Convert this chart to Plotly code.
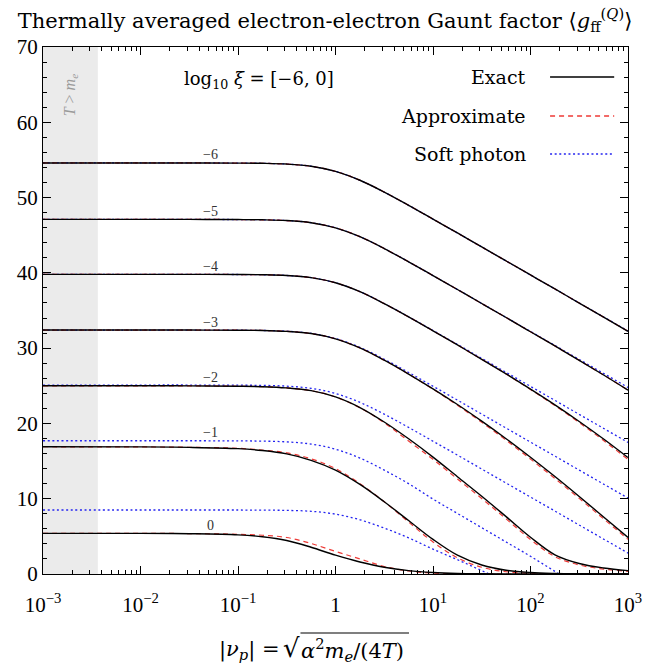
import math
import plotly.graph_objects as go

# ---------------- data ----------------
nu = [0.001, 0.01, 0.0316, 0.1, 0.178, 0.316, 0.562, 1, 1.78, 3.16, 5.62,
      10, 17.8, 31.6, 56.2, 100, 178, 316, 562, 1000]

log_xi = [-6, -5, -4, -3, -2, -1, 0]
curve_labels = ["\u22126", "\u22125", "\u22124", "\u22123", "\u22122", "\u22121", "0"]

exact_m6 = [54.6, 54.6, 54.6, 54.58, 54.55, 54.45, 54.16, 53.48, 52.30, 50.73, 48.97, 47.14, 45.30, 43.44, 41.58, 39.72, 37.86, 35.99, 34.12, 32.24]
exact_m5 = [47.1, 47.1, 47.1, 47.08, 47.05, 46.95, 46.66, 45.98, 44.80, 43.23, 41.47, 39.64, 37.79, 35.93, 34.07, 32.18, 30.29, 28.38, 26.43, 24.42]
exact_m4 = [39.8, 39.8, 39.8, 39.78, 39.75, 39.65, 39.36, 38.68, 37.50, 35.91, 34.15, 32.30, 30.42, 28.52, 26.57, 24.56, 22.47, 20.26, 17.93, 15.47]
exact_m3 = [32.4, 32.4, 32.4, 32.38, 32.35, 32.23, 31.94, 31.24, 30.03, 28.40, 26.56, 24.59, 22.51, 20.30, 17.97, 15.51, 12.94, 10.29, 7.58, 4.85]
exact_m2 = [25.0, 25.0, 24.99, 24.94, 24.88, 24.72, 24.35, 23.52, 22.11, 20.19, 17.96, 15.53, 12.92, 10.33, 7.62, 4.88, 2.55, 1.40, 0.80, 0.45]
exact_m1 = [16.9, 16.88, 16.82, 16.65, 16.40, 15.95, 15.10, 13.80, 11.90, 9.60, 7.10, 4.60, 2.50, 1.20, 0.50, 0.20, 0.08, 0.03, 0.01, 0.0]
exact_0 = [5.4, 5.4, 5.35, 5.20, 4.95, 4.45, 3.55, 2.50, 1.60, 0.90, 0.45, 0.20, 0.08, 0.03, 0.01, 0.0, 0.0, 0.0, 0.0, 0.0]

approx_m6 = [54.6, 54.6, 54.6, 54.58, 54.55, 54.45, 54.16, 53.48, 52.30, 50.73, 48.97, 47.14, 45.30, 43.44, 41.58, 39.72, 37.86, 35.99, 34.12, 32.24]
approx_m5 = [47.1, 47.1, 47.1, 47.08, 47.05, 46.95, 46.66, 45.98, 44.80, 43.23, 41.47, 39.64, 37.79, 35.93, 34.07, 32.18, 30.29, 28.38, 26.43, 24.42]
approx_m4 = [39.8, 39.8, 39.8, 39.78, 39.75, 39.65, 39.36, 38.68, 37.50, 35.91, 34.15, 32.30, 30.42, 28.52, 26.57, 24.50, 22.37, 20.11, 17.73, 15.22]
approx_m3 = [32.4, 32.4, 32.4, 32.38, 32.35, 32.23, 31.94, 31.24, 30.03, 28.40, 26.56, 24.55, 22.41, 20.15, 17.77, 15.26, 12.69, 10.04, 7.33, 4.60]
approx_m2 = [25.0, 25.0, 24.99, 24.94, 24.88, 24.72, 24.35, 23.52, 22.08, 20.09, 17.66, 15.23, 12.62, 10.03, 7.32, 4.58, 2.30, 1.20, 0.65, 0.35]
approx_m1 = [16.9, 16.88, 16.83, 16.70, 16.45, 16.10, 15.30, 14.00, 12.00, 9.60, 6.90, 4.25, 2.15, 0.90, 0.30, 0.10, 0.03, 0.01, 0.0, 0.0]
approx_0 = [5.4, 5.4, 5.37, 5.28, 5.15, 4.85, 4.05, 3.00, 2.00, 1.00, 0.40, 0.12, 0.03, 0.01, 0.0, 0.0, 0.0, 0.0, 0.0, 0.0]

soft_m6 = [54.6, 54.6, 54.6, 54.58, 54.55, 54.45, 54.16, 53.48, 52.30, 50.73, 48.97, 47.14, 45.30, 43.44, 41.58, 39.72, 37.86, 36.00, 34.14, 32.28]
soft_m5 = [47.1, 47.1, 47.1, 47.08, 47.05, 46.95, 46.66, 45.98, 44.80, 43.23, 41.47, 39.64, 37.80, 35.94, 34.08, 32.22, 30.36, 28.50, 26.64, 24.78]
soft_m4 = [39.8, 39.8, 39.8, 39.78, 39.75, 39.65, 39.36, 38.68, 37.50, 35.93, 34.17, 32.34, 30.50, 28.64, 26.78, 24.92, 23.06, 21.20, 19.34, 17.48]
soft_m3 = [32.4, 32.4, 32.4, 32.38, 32.35, 32.25, 31.96, 31.28, 30.10, 28.53, 26.77, 24.94, 23.10, 21.24, 19.38, 17.52, 15.66, 13.80, 11.94, 10.08]
soft_m2 = [25.1, 25.1, 25.1, 25.08, 25.05, 24.95, 24.66, 23.98, 22.80, 21.23, 19.47, 17.64, 15.80, 13.94, 12.08, 10.22, 8.36, 6.50, 4.64, 2.78]
soft_m1 = [17.7, 17.7, 17.7, 17.68, 17.65, 17.55, 17.26, 16.58, 15.40, 13.80, 12.00, 9.95, 8.05, 6.15, 4.25, 2.35, 0.35, -1.60, -3.50, -5.40]
soft_0 = [8.5, 8.5, 8.5, 8.5, 8.48, 8.45, 8.33, 7.95, 7.20, 6.10, 4.80, 3.30, 1.90, 0.45, -1.00, -2.40, -3.80, -5.20, -6.60, -8.00]

exact_curves = [exact_m6, exact_m5, exact_m4, exact_m3, exact_m2, exact_m1, exact_0]
approx_curves = [approx_m6, approx_m5, approx_m4, approx_m3, approx_m2, approx_m1, approx_0]
soft_curves = [soft_m6, soft_m5, soft_m4, soft_m3, soft_m2, soft_m1, soft_0]

nu_T_equals_me = 0.00365          # alpha/2 : boundary of the T > m_e region
nu_label = 0.0526                 # where the log10(xi) labels sit
y_range = [0, 70]

x_tick_vals = [1e-3, 1e-2, 1e-1, 1, 1e1, 1e2, 1e3]
x_tick_text = ["10<sup>\u22123</sup>", "10<sup>\u22122</sup>", "10<sup>\u22121</sup>", "1",
               "10<sup>1</sup>", "10<sup>2</sup>", "10<sup>3</sup>"]
x_minor_vals = [k * 10.0 ** e for e in range(-3, 3) for k in range(2, 10)]

# ---------------- style ----------------
NUMFONT = "Liberation Serif"
TXTFONT = "DejaVu Serif"
BLACK = "#000000"
RED = "#ee3a36"
BLUE = "#2424f0"
DASH = "5px,4px"
DOT = "2px,2.6px"

W, H = 654, 664
ML, MR, MT, MB = 43, 18, 47, 90
PW, PH = W - ML - MR, H - MT - MB


def px(xp):   # pixel x -> paper x
    return (xp - ML) / PW


def py(yp):   # pixel y -> paper y
    return (H - MB - yp) / PH


fig = go.Figure()

# shaded T > m_e region
fig.add_trace(go.Scatter(x=[nu[0], nu_T_equals_me, nu_T_equals_me, nu[0], nu[0]],
                         y=[y_range[0], y_range[0], y_range[1], y_range[1], y_range[0]],
                         mode="lines", fill="toself", fillcolor="#ebebeb", line=dict(width=0),
                         showlegend=False, hoverinfo="skip"))

for ys in soft_curves:
    fig.add_trace(go.Scatter(x=nu, y=ys, mode="lines",
                             line=dict(color=BLUE, width=1.3, dash=DOT, shape="spline"),
                             showlegend=False, hoverinfo="skip"))
for ys in approx_curves:
    fig.add_trace(go.Scatter(x=nu, y=ys, mode="lines",
                             line=dict(color=RED, width=1.2, dash=DASH, shape="spline"),
                             showlegend=False, hoverinfo="skip"))
for ys in exact_curves:
    fig.add_trace(go.Scatter(x=nu, y=ys, mode="lines", line=dict(color=BLACK, width=1.4, shape="spline"),
                             showlegend=False, hoverinfo="skip"))

shapes = []
annotations = []
# log10 xi labels above each exact plateau
for lab, ys, k in zip(curve_labels, exact_curves, log_xi):
    annotations.append(dict(x=math.log10(nu_label), y=ys[0], xref="x", yref="y", text=lab,
                            showarrow=False, xanchor="center", yshift=14 if k == -1 else 8,
                            font=dict(family=NUMFONT, size=14, color="#333333")))

annotations.append(dict(x=math.log10(0.0019), y=63.6, xref="x", yref="y", textangle=-90,
                        xanchor="center", yanchor="middle",
                        text="<i>T</i> > <i>m</i><sub><i>e</i></sub>", showarrow=False,
                        font=dict(family=NUMFONT, size=16, color="#9a9a9a")))

annotations.append(dict(x=px(262), y=py(80), xref="paper", yref="paper", xanchor="center",
                        yanchor="middle", text="log<sub>10</sub> <i>\u03be</i> = [\u22126, 0]",
                        showarrow=False, font=dict(family=TXTFONT, size=18, color=BLACK)))

# custom legend (text right-aligned, line key on the right)
legend_items = [("Exact", BLACK, "solid", 1.4, 77), ("Approximate", RED, DASH, 1.3, 116),
                ("Soft photon", BLUE, DOT, 1.4, 154)]
for name, col, dash, w, ypix in legend_items:
    annotations.append(dict(x=px(535), y=py(ypix), xref="paper", yref="paper", text=name,
                            showarrow=False, xanchor="right", yanchor="middle",
                            font=dict(family=TXTFONT, size=19, color=BLACK)))
    shapes.append(dict(type="line", xref="paper", yref="paper", x0=px(557), x1=px(622),
                       y0=py(ypix), y1=py(ypix), line=dict(color=col, width=w, dash=dash)))

# x-axis title |nu_p| = sqrt(alpha^2 m_e / (4T)), drawn in three pieces + overline
annotations.append(dict(x=px(285), y=py(650), xref="paper", yref="paper", xanchor="right",
                        yanchor="middle", showarrow=False,
                        text="|<i>\u03bd</i><sub><i>p</i></sub>| =",
                        font=dict(family=TXTFONT, size=21, color=BLACK)))
annotations.append(dict(x=px(306), y=py(648), xref="paper", yref="paper", xanchor="right",
                        yanchor="middle", showarrow=False, text="\u221a",
                        font=dict(family=TXTFONT, size=26, color=BLACK)))
annotations.append(dict(x=px(303), y=py(650), xref="paper", yref="paper", xanchor="left",
                        yanchor="middle", showarrow=False,
                        text="<i>\u03b1</i><sup>2</sup><i>m</i><sub><i>e</i></sub>/(4<i>T</i>)",
                        font=dict(family=TXTFONT, size=21, color=BLACK)))
shapes.append(dict(type="line", xref="paper", yref="paper", x0=px(304), x1=px(414),
                   y0=py(633), y1=py(633), line=dict(color=BLACK, width=1.1)))

fig.update_layout(
    width=W, height=H,
    margin=dict(l=ML, r=MR, t=MT, b=MB),
    plot_bgcolor="white", paper_bgcolor="white",
    font=dict(family=TXTFONT, color=BLACK),
    title=dict(text="Thermally averaged electron-electron Gaunt factor "
                    "\u27e8<i>g</i><sub>ff</sub><sup>(<i>Q</i>)</sup>\u27e9",
               x=0.497, xanchor="center", y=0.969, yanchor="middle", yref="container",
               font=dict(family=TXTFONT, size=21, color=BLACK)),
    shapes=shapes,
    annotations=annotations,
    showlegend=False,
)

fig.update_xaxes(type="log", range=[-3, 3], showline=True, linecolor=BLACK, linewidth=1.2,
                 mirror="allticks", ticks="inside", ticklen=8, tickwidth=1, tickcolor=BLACK,
                 tickmode="array", tickvals=x_tick_vals, ticktext=x_tick_text,
                 tickfont=dict(family=NUMFONT, size=21, color=BLACK), showgrid=False, zeroline=False,
                 ticklabelstandoff=12,
                 minor=dict(ticks="inside", ticklen=4, tickwidth=1, tickcolor=BLACK,
                            tickmode="array", tickvals=x_minor_vals, showgrid=False))

fig.update_yaxes(range=y_range, dtick=10, showline=True, linecolor=BLACK, linewidth=1.2,
                 mirror="allticks", ticks="inside", ticklen=8, tickwidth=1, tickcolor=BLACK,
                 tickfont=dict(family=NUMFONT, size=21, color=BLACK), showgrid=False, zeroline=False,
                 minor=dict(ticks="inside", ticklen=4, tickwidth=1, tickcolor=BLACK, dtick=2,
                            showgrid=False))

fig.write_html("out.html")
